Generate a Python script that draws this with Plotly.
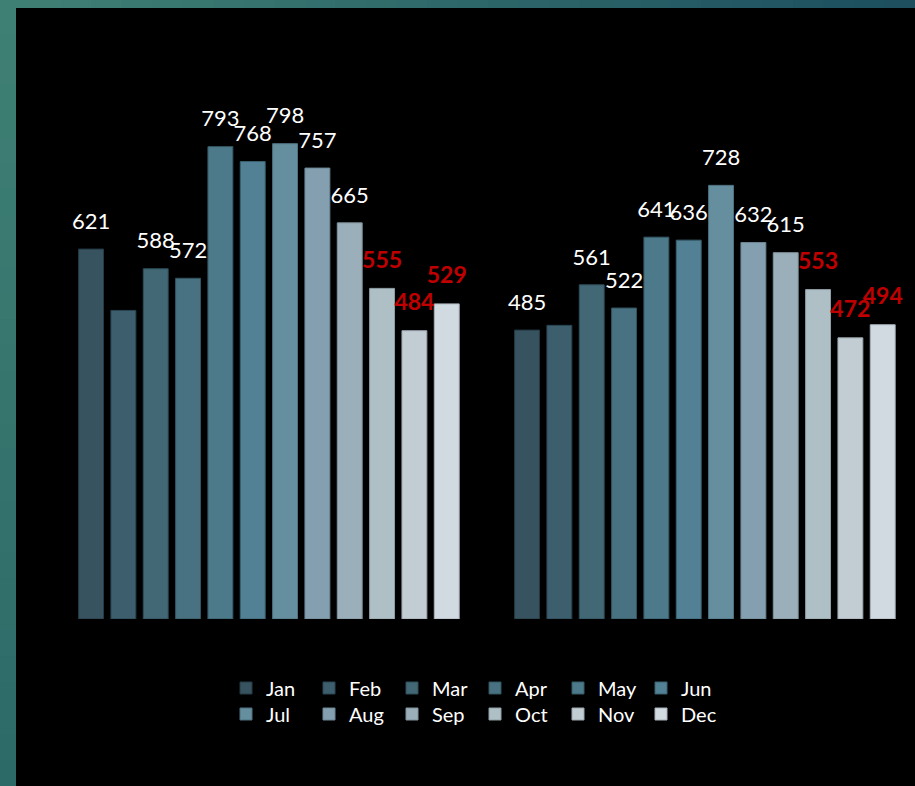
import plotly.graph_objects as go

# ---- data ----
groups = ["Group 1", "Group 2"]
months = ["Jan", "Feb", "Mar", "Apr", "May", "Jun",
          "Jul", "Aug", "Sep", "Oct", "Nov", "Dec"]
values_g1 = [621, 518, 588, 572, 793, 768, 798, 757, 665, 555, 484, 529]
values_g2 = [485, 493, 561, 522, 641, 636, 728, 632, 615, 553, 472, 494]
show_label = [True, False, True, True, True, True, True, True, True, True, True, True]
highlight = [False] * 9 + [True, True, True]

colors = ["#36535f", "#3d5e6d", "#426876", "#487282", "#4d7a8a", "#528196",
          "#658f9e", "#84a0b0", "#9aafb9", "#afbfc6", "#c2ccd3", "#d2dae1"]
edges = ["#243a44", "#2a4452", "#2e4c58", "#33545f", "#365a66", "#3a606e",
         "#4e7080", "#6c8594", "#7f929c", "#8e9ea6", "#9aa6ae", "#a7b1b9"]

W, H = 915, 786
ML, MR, MT, MB = 40, 10, 40, 167
PW, PH = W - ML - MR, H - MT - MB

def px_x(p):
    return (p - ML) / PW

def px_y(p):
    return (H - MB - p) / PH

FONT = "Century Gothic, Lato, Open Sans, sans-serif"

fig = go.Figure()
for i, m in enumerate(months):
    vals = [values_g1[i], values_g2[i]]
    fig.add_trace(go.Bar(
        name=m, x=groups, y=vals,
        marker=dict(color=colors[i], line=dict(color=edges[i], width=1)),
        legend="legend" if i < 6 else "legend2",
        hoverinfo="skip",
    ))

# value labels, aligned to the grouped bars
for i, m in enumerate(months):
    vals = [values_g1[i], values_g2[i]]
    txt = [str(v) for v in vals] if show_label[i] else ["", ""]
    fig.add_trace(go.Scatter(
        name=m + " label", x=groups, y=vals, text=txt,
        mode="markers+text", textposition="top center", cliponaxis=False,
        marker=dict(size=22, opacity=0, color="#000000"),
        textfont=dict(family=FONT, size=22 if not highlight[i] else 23,
                      color="#c00000" if highlight[i] else "#ffffff",
                      weight="bold" if highlight[i] else "normal"),
        showlegend=False, hoverinfo="skip",
    ))

# frame (teal gradient strips around black canvas)
shapes = []
n = 30
c0 = (0x3f, 0x80, 0x74)
c1 = (0x1d, 0x4f, 0x5f)
c2 = (0x2c, 0x6a, 0x68)
def mix(a, b, t):
    return "rgb(%d,%d,%d)" % tuple(round(a[k] + (b[k] - a[k]) * t) for k in range(3))
for k in range(n):
    shapes.append(dict(type="rect", xref="paper", yref="paper", layer="below",
                       x0=px_x(W * k / n), x1=px_x(W * (k + 1) / n + 1),
                       y0=px_y(8), y1=px_y(-5),
                       fillcolor=mix(c0, c1, k / (n - 1)), line=dict(width=0)))
    shapes.append(dict(type="rect", xref="paper", yref="paper", layer="below",
                       x0=px_x(-5), x1=px_x(16),
                       y0=px_y(8 + (H - 8) * (k + 1) / n + 1), y1=px_y(8 + (H - 8) * k / n),
                       fillcolor=mix(c0, c2, k / (n - 1)), line=dict(width=0)))

legend_common = dict(orientation="h", xanchor="left", yanchor="middle",
                     font=dict(family=FONT, size=20, color="#ffffff"),
                     entrywidth=38, entrywidthmode="pixels",
                     bgcolor="rgba(0,0,0,0)", itemclick=False, itemdoubleclick=False)

fig.update_layout(
    width=W, height=H,
    margin=dict(l=ML, r=MR, t=MT, b=MB),
    paper_bgcolor="#000000", plot_bgcolor="#000000",
    barmode="group", bargap=0.11, bargroupgap=0.23,
    scattermode="group", scattergap=0.11,
    showlegend=True,
    legend=dict(x=px_x(226), y=px_y(688), **legend_common),
    legend2=dict(x=px_x(226), y=px_y(714), **legend_common),
    xaxis=dict(range=[-0.525, 1.459], showticklabels=False, showgrid=False,
               zeroline=False, showline=False, ticks=""),
    yaxis=dict(range=[0, 972], showticklabels=False, showgrid=False,
               zeroline=False, showline=False, ticks=""),
    shapes=shapes,
)

fig.write_html("out.html", config={"displayModeBar": False},
               post_script="document.body.style.margin='0';document.body.style.background='#000';")
